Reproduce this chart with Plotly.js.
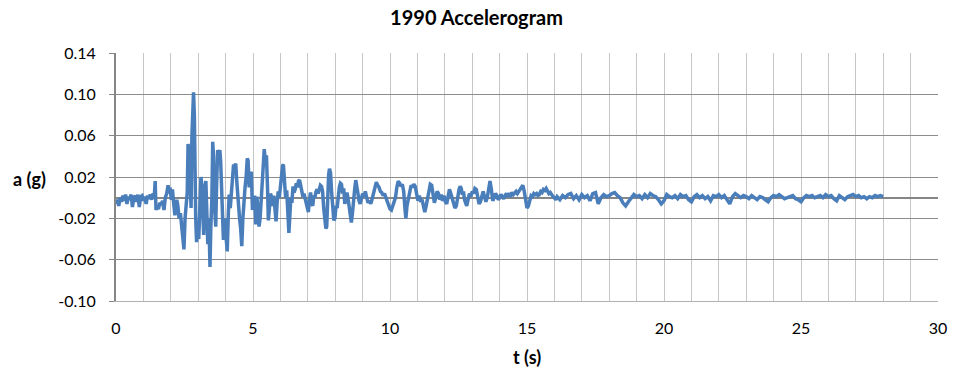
<!DOCTYPE html>
<html>
<head>
<meta charset="utf-8">
<script src="https://cdn.plot.ly/plotly-3.0.1.min.js"></script>
<style>html,body{margin:0;padding:0;background:#fff;}#chart{width:953px;height:379px;}</style>
</head>
<body>
<div id="chart"></div>
<script>
// time (s)
const timeS = [
0.00,0.05,0.10,0.15,0.20,0.25,0.30,0.35,0.40,0.45,0.50,0.55,0.60,0.65,0.70,0.75,0.80,0.85,0.90,0.95,
1.00,1.05,1.10,1.15,1.20,1.25,1.30,1.35,1.40,1.43,1.46,1.50,1.55,1.60,1.65,1.70,1.75,1.80,1.85,1.90,
1.93,1.97,2.02,2.06,2.10,2.15,2.18,2.22,2.26,2.30,2.35,2.40,2.44,2.48,2.52,2.56,2.60,2.63,2.66,2.70,
2.74,2.77,2.80,2.83,2.86,2.88,2.91,2.94,2.98,3.02,3.06,3.10,3.13,3.17,3.20,3.24,3.28,3.31,3.35,3.39,
3.43,3.46,3.50,3.53,3.56,3.60,3.64,3.67,3.71,3.75,3.79,3.82,3.86,3.89,3.92,3.96,4.00,4.03,4.06,4.10,
4.13,4.17,4.21,4.25,4.29,4.33,4.37,4.41,4.44,4.47,4.51,4.55,4.59,4.63,4.67,4.71,4.75,4.79,4.82,4.86,
4.90,4.94,4.98,5.02,5.06,5.10,5.14,5.18,5.22,5.26,5.30,5.34,5.38,5.41,5.45,5.49,5.53,5.56,5.60,5.64,
5.68,5.72,5.76,5.80,5.84,5.88,5.92,5.96,6.00,6.04,6.08,6.11,6.15,6.19,6.23,6.27,6.31,6.34,6.38,6.42,
6.46,6.50,6.54,6.58,6.62,6.66,6.70,6.74,6.78,6.82,6.86,6.90,6.94,6.98,7.02,7.06,7.10,7.14,7.18,7.22,
7.26,7.30,7.34,7.38,7.42,7.46,7.50,7.54,7.58,7.62,7.66,7.69,7.72,7.76,7.79,7.83,7.87,7.91,7.95,7.99,
8.03,8.07,8.11,8.15,8.19,8.23,8.27,8.31,8.35,8.39,8.43,8.47,8.51,8.55,8.59,8.63,8.67,8.71,8.75,8.79,
8.83,8.87,8.91,8.95,9.00,9.05,9.10,9.15,9.20,9.25,9.30,9.35,9.40,9.45,9.50,9.55,9.60,9.65,9.70,9.75,
9.80,9.85,9.90,9.95,10.00,10.05,10.10,10.15,10.20,10.25,10.30,10.35,10.40,10.45,10.50,10.55,10.58,10.62,10.67,10.72,
10.77,10.82,10.87,10.92,10.97,11.02,11.07,11.12,11.17,11.22,11.27,11.32,11.37,11.42,11.47,11.52,11.57,11.62,11.67,11.72,
11.77,11.82,11.87,11.92,11.97,12.02,12.07,12.12,12.17,12.22,12.27,12.32,12.37,12.42,12.47,12.52,12.56,12.60,12.64,12.68,
12.72,12.76,12.80,12.85,12.90,12.95,13.00,13.05,13.10,13.15,13.20,13.25,13.30,13.35,13.40,13.45,13.50,13.55,13.60,13.65,
13.70,13.75,13.80,13.85,13.90,13.95,14.00,14.05,14.10,14.15,14.20,14.25,14.30,14.35,14.40,14.45,14.50,14.55,14.60,14.65,
14.70,14.75,14.80,14.85,14.90,14.95,15.00,15.05,15.10,15.15,15.20,15.25,15.30,15.35,15.40,15.45,15.50,15.55,15.60,15.65,
15.70,15.75,15.80,15.85,15.90,15.95,16.00,16.05,16.1,16.2,16.3,16.4,16.5,16.6,16.7,16.8,16.9,17.0,17.1,17.2,
17.3,17.4,17.5,17.6,17.7,17.8,17.9,18.0,18.1,18.2,18.3,18.4,18.5,18.6,18.7,18.8,18.9,19.0,19.1,19.2,
19.3,19.4,19.5,19.6,19.7,19.8,19.9,20.0,20.1,20.2,20.3,20.4,20.5,20.6,20.7,20.8,20.9,21.0,21.1,21.2,
21.3,21.4,21.5,21.6,21.7,21.8,21.9,22.0,22.1,22.2,22.3,22.4,22.5,22.6,22.7,22.8,22.9,23.0,23.1,23.2,
23.3,23.4,23.5,23.6,23.7,23.8,23.9,24.0,24.1,24.2,24.3,24.4,24.5,24.6,24.7,24.8,24.9,25.0,25.1,25.2,
25.3,25.4,25.5,25.6,25.7,25.8,25.9,26.0,26.1,26.2,26.3,26.4,26.5,26.6,26.7,26.8,26.9,27.0,27.1,27.2,
27.3,27.4,27.5,27.6,27.7,27.8,27.9,28.0
];
// acceleration (g)
const accelG = [
-0.006,-0.002,-0.008,0.000,-0.004,0.002,-0.003,0.003,-0.006,0.001,-0.002,0.003,-0.009,0.000,0.002,-0.004,0.003,-0.009,0.001,0.002,
-0.003,0.001,-0.006,0.002,-0.001,0.003,-0.002,0.004,0.002,0.016,-0.012,-0.008,-0.011,-0.005,-0.007,-0.003,-0.012,0.000,0.004,0.012,
0.004,0.010,-0.002,0.008,-0.004,-0.017,-0.010,-0.002,-0.008,-0.020,-0.015,-0.028,-0.040,-0.050,-0.020,-0.005,0.005,0.052,0.045,0.020,
-0.010,0.060,0.095,0.102,0.080,0.020,-0.020,-0.043,-0.030,-0.040,0.005,0.020,0.012,-0.030,-0.036,0.010,0.016,-0.010,-0.045,-0.020,
-0.067,-0.030,0.000,0.054,0.040,-0.010,-0.028,0.010,0.046,0.040,0.046,0.035,0.000,-0.025,-0.041,-0.020,-0.030,-0.045,-0.052,-0.015,
0.003,-0.010,0.008,0.020,0.032,0.030,0.033,0.015,0.000,-0.009,-0.020,-0.030,-0.047,-0.020,0.000,0.010,0.020,0.038,0.036,0.010,
0.022,0.025,-0.012,-0.004,0.002,-0.026,0.001,-0.010,-0.028,-0.020,-0.005,0.010,0.030,0.047,0.035,0.041,0.010,-0.022,-0.010,0.004,
0.000,-0.008,0.002,-0.012,-0.023,-0.005,0.006,0.000,0.012,0.020,0.031,0.032,0.012,0.000,0.007,-0.015,-0.034,-0.020,0.000,-0.005,
0.011,0.005,0.008,0.014,0.010,0.016,0.017,0.012,0.006,0.001,0.004,0.000,-0.006,-0.010,-0.014,-0.002,0.005,-0.004,-0.008,0.002,
0.000,0.006,0.008,0.004,0.010,0.012,0.011,0.006,-0.010,-0.022,-0.030,-0.028,0.000,0.022,0.028,0.024,0.005,-0.015,-0.022,-0.020,
-0.008,-0.010,0.002,0.010,0.014,0.013,0.004,0.009,-0.006,0.000,0.005,-0.001,-0.010,-0.018,-0.024,-0.015,0.000,0.008,0.017,0.012,
0.004,-0.003,-0.006,-0.002,0.004,0.001,0.006,0.000,-0.005,-0.003,-0.006,-0.001,0.004,0.008,0.015,0.012,0.010,0.006,0.005,0.002,
0.004,0.000,-0.004,-0.008,-0.011,-0.012,-0.008,-0.004,0.000,0.010,0.016,0.014,0.011,0.013,0.006,-0.012,-0.020,-0.008,0.000,0.006,
0.012,0.010,0.013,0.011,0.004,-0.003,0.002,-0.004,-0.002,-0.008,-0.014,-0.008,0.000,0.006,0.013,0.012,0.004,-0.005,0.000,0.006,
0.004,-0.002,0.003,-0.003,0.002,-0.004,-0.006,0.002,0.008,0.004,0.000,-0.006,-0.010,-0.008,0.002,0.008,0.011,0.009,0.003,0.006,
-0.002,-0.006,-0.008,-0.002,0.004,0.001,0.006,0.004,0.009,0.008,0.000,-0.006,-0.004,0.002,0.006,0.001,-0.004,0.000,0.010,0.016,
0.008,-0.003,0.000,0.004,0.002,-0.002,0.000,0.003,0.001,-0.001,0.002,0.004,0.001,0.003,0.002,0.005,0.003,0.004,0.006,0.004,
0.007,0.008,0.010,0.012,0.006,-0.005,-0.010,-0.008,-0.002,0.002,0.001,0.004,0.003,0.004,0.002,0.003,0.006,0.005,0.008,0.007,
0.009,0.006,0.004,0.005,0.002,0.001,0.000,-0.002,0.001,-0.002,0.002,0.000,0.003,0.004,-0.001,0.002,-0.002,0.003,0.000,0.002,
-0.003,0.004,0.005,-0.006,0.000,0.003,0.001,0.002,0.004,0.005,0.002,0.000,-0.005,-0.008,-0.004,-0.001,0.003,0.001,0.002,-0.001,
0.003,0.000,0.004,0.002,0.001,-0.002,-0.006,-0.003,0.003,0.001,0.000,0.002,-0.001,0.003,0.001,0.002,-0.002,-0.004,0.001,0.003,
0.000,0.002,-0.001,0.001,-0.003,0.002,0.001,0.003,0.000,0.002,-0.002,-0.006,0.001,0.004,0.002,0.000,0.002,0.001,-0.001,0.002,
0.000,-0.002,0.001,0.000,-0.002,-0.004,0.000,0.002,0.001,0.003,0.001,-0.001,0.000,0.001,0.002,-0.001,-0.002,-0.004,0.000,0.002,
0.001,0.002,0.000,0.001,0.002,0.000,0.003,0.001,0.002,-0.001,-0.003,0.002,0.000,-0.002,0.001,0.002,0.003,0.001,0.002,0.000,
0.001,-0.001,0.001,0.000,0.002,0.001,0.002,0.001
];
const yTicks = [-0.10,-0.06,-0.02,0.02,0.06,0.10,0.14];
const yTickText = ['-0.10','-0.06','-0.02','0.02','0.06','0.10','0.14'];
const xTickVals = [0,1,2,3,4,5,6,7,8,9,10,11,12,13,14,15,16,17,18,19,20,21,22,23,24,25,26,27,28,29,30];
const xTickText = ['0','','','','','5','','','','','10','','','','','15','','','','','20','','','','','25','','','','','30'];

const FONT = 'Lato, "Open Sans", sans-serif';

const trace = {
  x: timeS, y: accelG, type: 'scatter', mode: 'lines',
  line: {color: '#4a7ebb', width: 3.5, shape: 'linear'},
  hoverinfo: 'skip', showlegend: false
};

const layout = {
  width: 953, height: 379,
  margin: {l: 116, r: 15, t: 53, b: 78},
  paper_bgcolor: '#ffffff', plot_bgcolor: '#ffffff',
  font: {family: FONT, size: 16, color: '#000000'},
  title: {text: '<b>1990 Accelerogram</b>', x: 0.5, xref: 'container', xanchor: 'center',
          y: 0.952, yref: 'container', yanchor: 'middle',
          font: {family: FONT, size: 20, color: '#000000'}},
  xaxis: {
    range: [0, 30], tickmode: 'array', tickvals: xTickVals, ticktext: xTickText,
    showgrid: true, gridcolor: '#c6c6c6', gridwidth: 1,
    zeroline: false, showline: true, linecolor: '#b0b0b0', linewidth: 1,
    ticks: '', ticklabelstandoff: 13, fixedrange: true,
    tickfont: {family: FONT, size: 16, color: '#000000'}
  },
  yaxis: {
    range: [-0.10, 0.14], tickmode: 'array', tickvals: yTicks, ticktext: yTickText,
    showgrid: true, gridcolor: '#8c8c8c', gridwidth: 1,
    zeroline: true, zerolinecolor: '#868686', zerolinewidth: 2,
    showline: true, linecolor: '#868686', linewidth: 2,
    ticks: 'outside', ticklen: 5, tickcolor: '#868686', ticklabelstandoff: 10,
    fixedrange: true,
    tickfont: {family: FONT, size: 16, color: '#000000'}
  },
  annotations: [
    {text: '<b>a (g)</b>', xref: 'paper', yref: 'paper', x: -0.105, y: 0.49,
     xanchor: 'center', yanchor: 'middle', showarrow: false,
     font: {family: FONT, size: 18, color: '#000000'}},
    {text: '<b>t (s)</b>', xref: 'paper', yref: 'paper', x: 0.5, y: -0.226,
     xanchor: 'center', yanchor: 'middle', showarrow: false,
     font: {family: FONT, size: 18, color: '#000000'}}
  ]
};

Plotly.newPlot('chart', [trace], layout, {staticPlot: true, displayModeBar: false});
</script>
</body>
</html>
